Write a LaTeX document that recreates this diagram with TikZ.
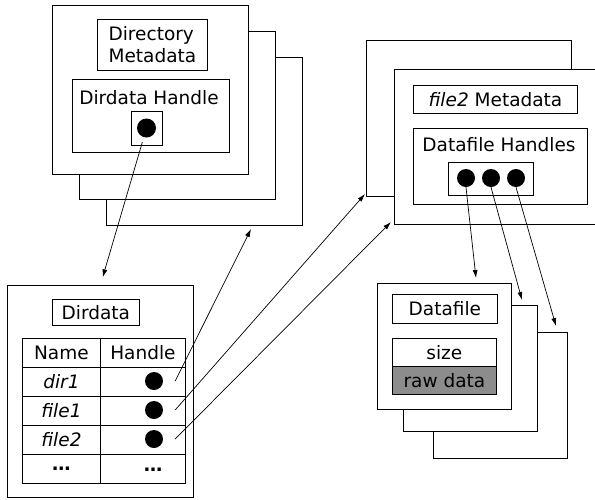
\documentclass[tikz,border=0pt]{standalone}
\usepackage{fontspec}
\setmainfont{DejaVu Sans}
\usepackage{tikz}
\usetikzlibrary{arrows.meta,positioning,calc}
\tikzstyle{arrow}=[draw,-{Latex[length=8pt,width=5pt]},line width=0.7pt]
\tikzstyle{sheet} =
  [rectangle, draw, fill=white, anchor=north west, inner sep=0pt, line width=0.8pt]
\tikzstyle{cell} =
  [rectangle, draw, anchor=north west, inner sep=0pt, minimum height=29pt, line width=0.8pt]
\tikzstyle{handledot} = [circle, fill=black, inner sep=0pt, minimum size=18pt]

\begin{document}
\begin{tikzpicture}[x=1pt, y=-1pt, font=\fontsize{18.5}{22}\selectfont]
  \useasboundingbox (0,0) rectangle (595,499);

  % directory metadata stack
  \node [sheet, minimum width=196pt, minimum height=168pt] (dm3) at (106,57) {};
  \node [sheet, minimum width=196pt, minimum height=168pt] (dm2) at (79,31) {};
  \node [sheet, minimum width=196pt, minimum height=169pt] (dm1) at (52,5) {};
  \node [sheet, minimum width=110pt, minimum height=51pt, align=left] (dmeta) at (97,19)
    {Directory\\Metadata};
  \node [sheet, minimum width=157pt, minimum height=73pt] (dh) at (72,79) {};
  \node [] (dhtext) at (149,98) {Dirdata Handle};
  \node [sheet, minimum width=31pt, minimum height=34pt] (dhbox) at (131,111) {};
  \node [handledot, minimum size=19pt] (hd) at (146.5,128) {};

  % file metadata stack
  \node [sheet, minimum width=205pt, minimum height=156pt] (fm1) at (366,40) {};
  \node [sheet, minimum width=205pt, minimum height=155pt] (fm2) at (394,69) {};
  \node [sheet, minimum width=164pt, minimum height=28pt] (fmeta) at (413,85)
    {\textit{file2} Metadata};
  \node [sheet, minimum width=174pt, minimum height=76pt] (dfh) at (413,128) {};
  \node [] (dfhtext) at (499,145) {Datafile Handles};
  \node [sheet, minimum width=85pt, minimum height=33pt] (dfhbox) at (448,162) {};
  \node [handledot] (fd1) at (466,178) {};
  \node [handledot] (fd2) at (491,178) {};
  \node [handledot] (fd3) at (516,178) {};

  % datafile stack
  \node [sheet, minimum width=134pt, minimum height=126pt] (df3) at (433,332) {};
  \node [sheet, minimum width=134pt, minimum height=126pt] (df2) at (403,305) {};
  \node [sheet, minimum width=134pt, minimum height=126pt] (df1) at (377,283) {};
  \node [sheet, minimum width=105pt, minimum height=29pt] (dfname) at (392,294) {Datafile};
  \node [sheet, minimum width=104pt, minimum height=28pt] (size) at (392,338) {size};
  \node [sheet, fill=black!45, minimum width=104pt, minimum height=28pt] (raw) at (392,366)
    {raw data};

  % dirdata table
  \node [sheet, minimum width=186pt, minimum height=212pt] (dd) at (7,285) {};
  \node [sheet, minimum width=87pt, minimum height=26pt] (ddname) at (52,299) {Dirdata};
  \node [cell, minimum width=78pt] (n0) at (22,338) {Name};
  \node [cell, minimum width=85pt] (h0) at (100,338) {Handle};
  \node [cell, minimum width=78pt] (n1) at (22,367) {\textit{dir1}};
  \node [cell, minimum width=85pt] (h1) at (100,367) {};
  \node [cell, minimum width=78pt] (n2) at (22,396) {\textit{file1}};
  \node [cell, minimum width=85pt] (h2) at (100,396) {};
  \node [cell, minimum width=78pt] (n3) at (22,425) {\textit{file2}};
  \node [cell, minimum width=85pt] (h3) at (100,425) {};
  \node [cell, minimum width=78pt] (n4) at (22,454) {\textbf{…}\hspace{3pt}};
  \node [cell, minimum width=85pt] (h4) at (100,454) {};
  \node [] (hdots) at (153,470) {\textbf{…}};
  \node [handledot] (d1) at (154,381) {};
  \node [handledot] (d2) at (154,410) {};
  \node [handledot] (d3) at (154,439) {};

  % arrow ends
  \coordinate (e1) at (251,229);
  \coordinate (e2) at (365,194);
  \coordinate (e3) at (391,222);
  \coordinate (f1) at (476,278);
  \coordinate (f2) at (522,300);
  \coordinate (f3) at (556,326);

  \draw [arrow, shorten <=5pt, shorten >=8pt] (hd) -- (dd.north);
  \draw [arrow] ([xshift=12pt]d1.east) -- (e1);
  \draw [arrow] ([xshift=12pt]d2.east) -- (e2);
  \draw [arrow] ([xshift=12pt]d3.east) -- (e3);
  \draw [arrow] (fd1.south) -- (f1);
  \draw [arrow] (fd2.south) -- (f2);
  \draw [arrow] (fd3.south) -- (f3);
\end{tikzpicture}
\end{document}
